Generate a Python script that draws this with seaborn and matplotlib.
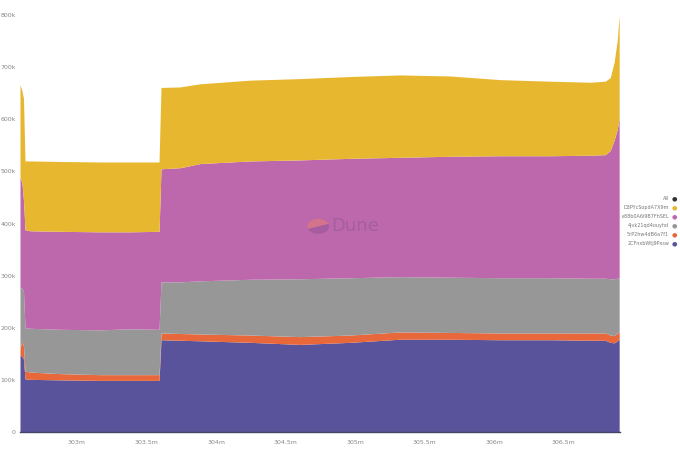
import numpy as np
import pandas as pd
import seaborn as sns
from matplotlib import pyplot as plt
from matplotlib.patches import Wedge

# block height (millions) and balance per wallet (thousands)
blocks = [302.590, 302.604, 302.615, 302.626, 302.662, 302.878, 303.165, 303.381,
          303.590, 303.604, 303.741, 303.885, 304.245, 304.604, 304.964, 305.324,
          305.683, 306.043, 306.403, 306.691, 306.799, 306.835, 306.863, 306.885,
          306.899]
w_2cf = [148, 145, 140, 102, 101, 100, 99, 99, 99, 177, 176, 175, 172, 168, 172, 178,
         178, 177, 177, 176, 176, 172, 171, 175, 178]
w_5rp = [12, 30, 25, 15, 14, 12, 11, 11, 11, 13, 13, 13, 14, 15, 14, 14,
         13, 13, 13, 14, 14, 14, 14, 15, 14]
w_4jv = [118, 101, 105, 83, 84, 85, 86, 88, 87, 98, 99, 102, 107, 111, 110, 106,
         106, 106, 106, 105, 105, 108, 109, 105, 104]
w_e38 = [211, 202, 175, 188, 187, 188, 188, 186, 188, 217, 219, 225, 227, 228, 229, 229,
         232, 234, 234, 236, 237, 246, 266, 285, 306]
w_d3p = [177, 177, 195, 132, 134, 134, 134, 134, 133, 156, 155, 153, 155, 156, 157, 158,
         154, 146, 143, 140, 141, 140, 150, 171, 198]

legend_labels = ['All', 'D3PYcSopdA7X9m', 'e38b0A6i9B7FhSEL', '4jvk21qd4ouyhd',
                 '5rP2hw4dB6a7f1', '2CFnxbWtj9Pxsw']
colors = {'2CF': '#58539a', '5rP': '#e8683b', '4jv': '#979797',
          'e38': '#bd67ac', 'D3P': '#e7b72f'}

df = pd.DataFrame({'block': blocks, '2CF': w_2cf, '5rP': w_5rp, '4jv': w_4jv,
                   'e38': w_e38, 'D3P': w_d3p})

sns.set_theme(style='white')
plt.rcParams['font.family'] = ['DejaVu Sans']

fig = plt.figure(figsize=(6.8, 4.53), dpi=100)
ax = fig.add_axes([20/680, 21/453, 600/680, 417/453])

order = ['2CF', '5rP', '4jv', 'e38', 'D3P']
ax.stackplot(df['block'], *[df[k] * 1000 for k in order],
             colors=[colors[k] for k in order], linewidth=0)

ax.set_xlim(302.59, 306.905)
ax.set_ylim(0, 800000)
ax.set_xticks([303, 303.5, 304, 304.5, 305, 305.5, 306, 306.5])
ax.set_xticklabels([f'{v:g}m' for v in ax.get_xticks()])
ax.set_yticks(np.arange(0, 800001, 100000))
ax.set_yticklabels(['0'] + [f'{int(v/1000)}k' for v in np.arange(100000, 800001, 100000)])
ax.tick_params(axis='both', labelsize=4.5, colors='#888888', length=0, pad=3)
ax.tick_params(axis='x', pad=6)
for s in ['top', 'right', 'left']:
    ax.spines[s].set_visible(False)
ax.spines['bottom'].set_color('#444466')
ax.spines['bottom'].set_linewidth(1.0)

# watermark
ax.add_patch(Wedge((0.497, 0.493), 0.018, 20, 200, transform=ax.transAxes,
                   facecolor='#e88070', alpha=0.55, edgecolor='none'))
ax.add_patch(Wedge((0.497, 0.493), 0.018, 200, 380, transform=ax.transAxes,
                   facecolor='#8a4f90', alpha=0.45, edgecolor='none'))
ax.text(0.518, 0.493, 'Dune', transform=ax.transAxes, fontsize=13,
        color='#8a5a90', alpha=0.5, va='center', ha='left')

# legend
dot_colors = ['#333333', colors['D3P'], colors['e38'], colors['4jv'],
              colors['5rP'], colors['2CF']]
for i, (lab, c) in enumerate(zip(legend_labels, dot_colors)):
    y = 1 - (199 + i * 9) / 453
    fig.text(669/680, y, lab, fontsize=3.5, color='#777777', ha='right', va='center')
    fig.text(674/680, y, '\u25cf', fontsize=4.5, color=c, ha='center', va='center')

plt.savefig('out.png', dpi=100)
